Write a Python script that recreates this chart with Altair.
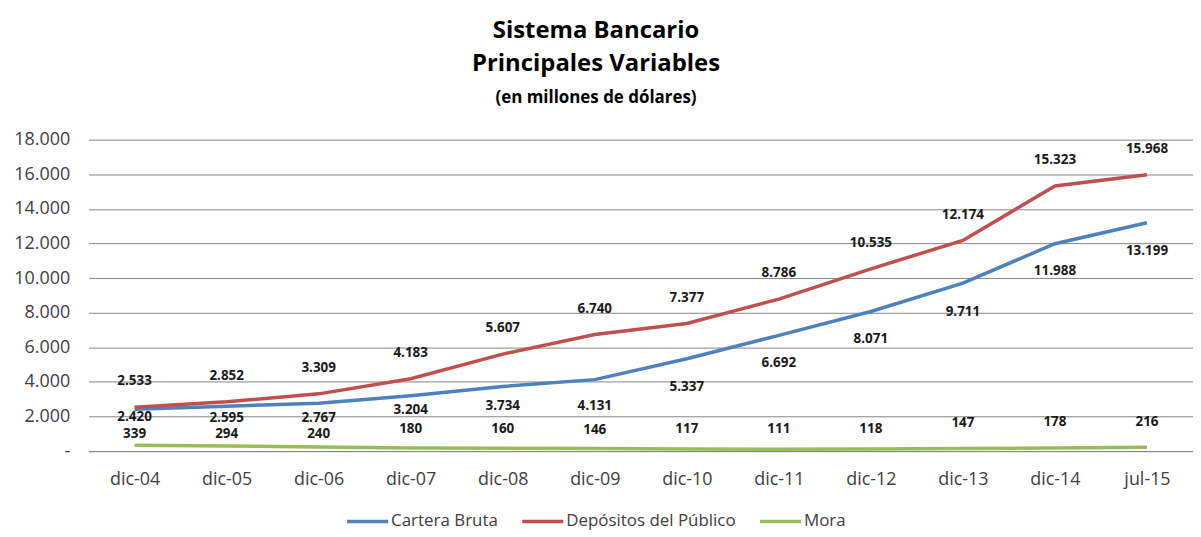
import altair as alt
import pandas as pd

periods = ["dic-04", "dic-05", "dic-06", "dic-07", "dic-08", "dic-09",
           "dic-10", "dic-11", "dic-12", "dic-13", "dic-14", "jul-15"]
cartera = [2420, 2595, 2767, 3204, 3734, 4131, 5337, 6692, 8071, 9711, 11988, 13199]
depositos = [2533, 2852, 3309, 4183, 5607, 6740, 7377, 8786, 10535, 12174, 15323, 15968]
mora = [339, 294, 240, 180, 160, 146, 117, 111, 118, 147, 178, 216]
series_names = ["Cartera Bruta", "Depósitos del Público", "Mora"]
colors = ["#4F81BD", "#C0504D", "#9BBB59"]

# label nudges (pixels), as in the original Excel label placement
cartera_nudge = [8, 12, 15, 14, 20, 27, 28, 28, 28, 29, 27, 28]
depositos_nudge = [-26] * 12
mora_nudge = [-11, -12, -13, -19, -19, -19, -20, -20, -20, -26, -26, -25]

rows = []
for name, vals, nudges in zip(series_names, [cartera, depositos, mora],
                              [cartera_nudge, depositos_nudge, mora_nudge]):
    for p, v, n in zip(periods, vals, nudges):
        rows.append({"periodo": p, "serie": name, "valor": v, "nudge": n})
df = pd.DataFrame(rows)

FONT = "Open Sans"

x = alt.X("periodo:N", sort=periods, scale=alt.Scale(type="point", padding=0.5),
          axis=alt.Axis(title=None, labelAngle=0, labelFontSize=18, labelColor="#404040",
                        labelFont=FONT, ticks=False, domain=True, domainColor="#868686",
                        labelPadding=20, grid=False))
y = alt.Y("valor:Q", scale=alt.Scale(domain=[0, 18000], nice=False),
          axis=alt.Axis(title=None, values=list(range(0, 18001, 2000)), format=",d",
                        labelExpr="datum.value == 0 ? '-' : datum.label",
                        labelFontSize=18, labelColor="#404040", labelFont=FONT,
                        labelOverlap=False, ticks=False, domain=False,
                        gridColor="#868686", gridWidth=1, labelPadding=19))
color = alt.Color("serie:N", scale=alt.Scale(domain=series_names, range=colors),
                  legend=alt.Legend(title=None, orient="none", direction="horizontal",
                                    legendX=258, legendY=361, symbolType="stroke",
                                    symbolSize=1700, symbolStrokeWidth=3.5,
                                    labelFontSize=17, labelFont=FONT, labelColor="#404040",
                                    labelLimit=400, labelOffset=1, columnPadding=16))

lines = alt.Chart(df).mark_line(strokeWidth=3.5).encode(x=x, y=y, color=color)

label_layers = []
for n in sorted(set(cartera_nudge + depositos_nudge + mora_nudge)):
    label_layers.append(
        alt.Chart(df).transform_filter(alt.datum.nudge == n)
        .mark_text(fontSize=13.5, fontWeight="bold", font=FONT, color="#1a1a1a", dy=n)
        .encode(x=x, y=y, text=alt.Text("valor:Q", format=",d"))
    )

chart = alt.layer(lines, *label_layers).properties(
    width=1110, height=313,
    title=alt.TitleParams(text=["Sistema Bancario", "Principales Variables"],
                          subtitle="(en millones de dólares)",
                          fontSize=24, font=FONT, fontWeight="bold", color="#000000",
                          lineHeight=33, subtitleFontSize=17, subtitleFont=FONT,
                          subtitleFontWeight="bold", subtitleColor="#000000",
                          subtitlePadding=14, anchor="middle", dx=-45, offset=25),
    autosize=alt.AutoSizeParams(type="none"),
    padding={"left": 81, "top": 131, "right": 0, "bottom": 85},
).configure_view(stroke=None)

chart.save("out.html", embed_options={"renderer": "svg", "actions": False,
                                      "formatLocale": {"decimal": ",", "thousands": ".",
                                                       "grouping": [3],
                                                       "currency": ["", "$"]}})
